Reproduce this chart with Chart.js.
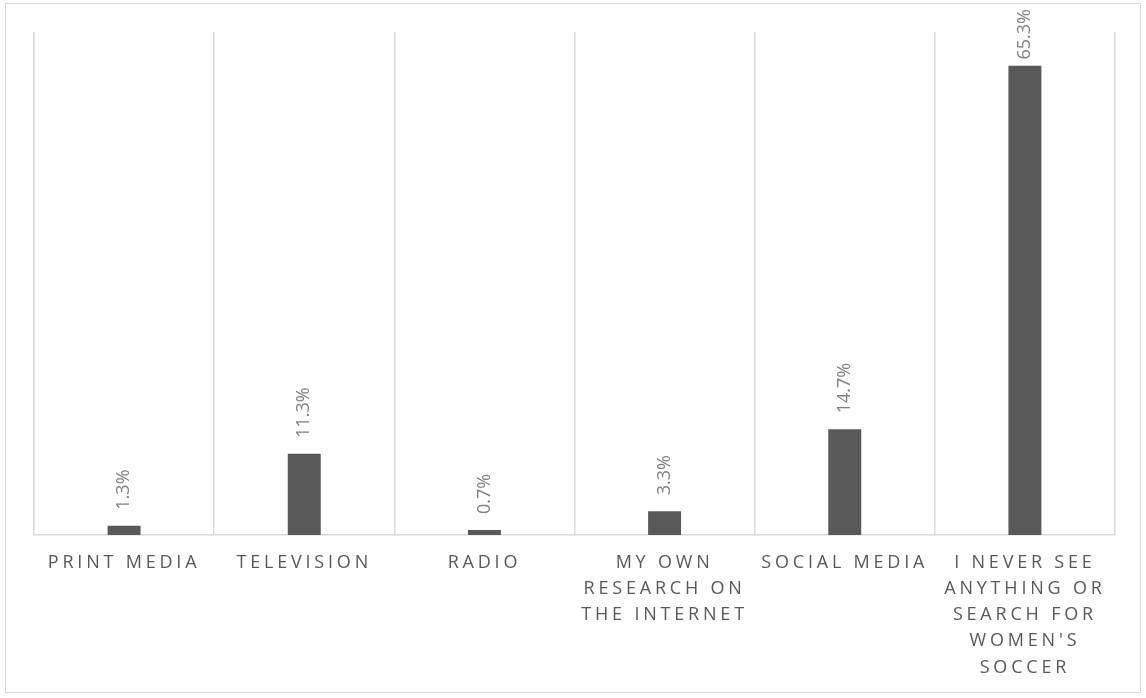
<!DOCTYPE html>
<html>
<head>
<meta charset="utf-8">
<script src="https://cdn.jsdelivr.net/npm/chart.js@4.4.1/dist/chart.umd.min.js"></script>
<style>
  html, body { margin: 0; padding: 0; background: #fff; }
  #wrap {
    position: absolute; left: 5px; top: 3px;
    width: 1134px; height: 688px;
    border: 1px solid #d9d9d9;
  }
</style>
</head>
<body>
<div id="wrap"><canvas id="chartBars"></canvas></div>
<script>
// categories (split into lines like the original)
const categories = [
  ["PRINT MEDIA"],
  ["TELEVISION"],
  ["RADIO"],
  ["MY OWN", "RESEARCH ON", "THE INTERNET"],
  ["SOCIAL MEDIA"],
  ["I NEVER SEE", "ANYTHING OR", "SEARCH FOR", "WOMEN'S", "SOCCER"]
];
const shares = [1.3, 11.3, 0.7, 3.3, 14.7, 65.3];
const shareLabels = ["1.3%", "11.3%", "0.7%", "3.3%", "14.7%", "65.3%"];

// letter spacing for axis labels, switched off before the bars
const spacing = {
  id: "spacing",
  beforeDraw(chart) { chart.ctx.letterSpacing = "3.8px"; },
  beforeDatasetsDraw(chart) { chart.ctx.letterSpacing = "0px"; }
};

// rotated value labels above each bar
const valueLabels = {
  id: "valueLabels",
  afterDatasetsDraw(chart) {
    const ctx = chart.ctx;
    const meta = chart.getDatasetMeta(0);
    ctx.save();
    ctx.letterSpacing = "0px";
    ctx.font = "18px 'Open Sans'";
    ctx.fillStyle = "#808080";
    ctx.textBaseline = "middle";
    ctx.textAlign = "left";
    meta.data.forEach((bar, i) => {
      const txt = shareLabels[i];
      const w = ctx.measureText(txt).width;
      let y = bar.y - 16;
      if (y - w < 5) y = 5 + w;
      ctx.save();
      ctx.translate(bar.x, y);
      ctx.rotate(-Math.PI / 2);
      ctx.fillText(txt, 0, 0);
      ctx.restore();
    });
    ctx.restore();
  }
};

const config = {
  type: "bar",
  data: {
    labels: categories,
    datasets: [
      {
        label: "Share",
        data: shares,
        backgroundColor: "#595959",
        barPercentage: 0.183,
        categoryPercentage: 1,
      },
    ],
  },
  options: {
    responsive: true,
    maintainAspectRatio: false,
    animation: false,
    layout: { padding: { left: 28, right: 25, top: 28, bottom: 0 } },
    plugins: {
      legend: { display: false },
      tooltip: { enabled: false },
    },
    scales: {
      x: {
        offset: true,
        grid: { offset: true, color: "#d9d9d9", lineWidth: 1.5, drawTicks: false },
        border: { color: "#d9d9d9", width: 1.5 },
        ticks: {
          color: "#595959",
          font: { family: "'Open Sans'", size: 18, lineHeight: 1.45 },
          padding: 15,
          maxRotation: 0,
          autoSkip: false,
        },
        afterFit(scale) { scale.height = 157; },
      },
      y: {
        display: false,
        min: 0,
        max: 70,
      },
    },
  },
  plugins: [spacing, valueLabels],
};

//render the chart
const barChartView = new Chart(document.getElementById("chartBars"), config);
</script>
</body>
</html>
